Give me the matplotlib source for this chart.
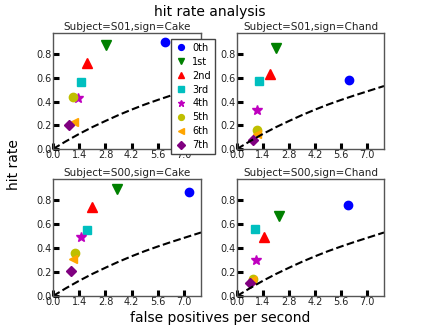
import matplotlib
matplotlib.use('Agg')
import matplotlib.pyplot as plt

# Per-panel data: false positives per second (x) and hit rate (y), 8 levels.
levels = ['0th', '1st', '2nd', '3rd', '4th', '5th', '6th', '7th']
titles = ['Subject=S01,sign=Cake', 'Subject=S01,sign=Chand',
          'Subject=S00,sign=Cake', 'Subject=S00,sign=Chand']

fp_s01_cake = [5.96, 2.85, 1.80, 1.48, 1.35, 1.06, 1.12, 0.85]
hr_s01_cake = [0.90, 0.877, 0.73, 0.564, 0.427, 0.436, 0.23, 0.20]
fp_s01_chand = [6.04, 2.10, 1.80, 1.19, 1.10, 1.10, 1.10, 0.85]
hr_s01_chand = [0.584, 0.857, 0.635, 0.578, 0.33, 0.16, 0.13, 0.074]
fp_s00_cake = [7.27, 3.43, 2.09, 1.80, 1.48, 1.19, 1.05, 0.94]
hr_s00_cake = [0.868, 0.90, 0.742, 0.556, 0.497, 0.357, 0.312, 0.21]
fp_s00_chand = [5.97, 2.27, 1.44, 0.97, 1.01, 0.85, 0.79, 0.68]
hr_s00_chand = [0.761, 0.671, 0.497, 0.559, 0.30, 0.146, 0.13, 0.11]

# Chance curve.
chance_x = [0.0, 0.7, 1.4, 2.1, 2.8, 3.5, 4.2, 4.9, 5.6, 6.3, 7.0, 7.9]
chance_y = [0.0, 0.066, 0.128, 0.185, 0.237, 0.287, 0.333, 0.376,
            0.415, 0.452, 0.487, 0.532]

markers = ['o', 'v', '^', 's', '*', 'o', '<', 'D']
colors = ['b', 'g', 'r', 'c', 'm', 'y', 'orange', 'purple']
sizes = [6, 6.5, 6.5, 6, 7, 6, 6, 5.5]

fps = [fp_s01_cake, fp_s01_chand, fp_s00_cake, fp_s00_chand]
hrs = [hr_s01_cake, hr_s01_chand, hr_s00_cake, hr_s00_chand]

fig = plt.figure(figsize=(4.27, 3.29), dpi=100)
W, H = 427.0, 329.0
boxes = [(53, 33, 201, 149), (237, 33, 384, 149),
         (53, 179, 201, 296), (237, 179, 384, 296)]

axes = []
for i, (l, t, r, b) in enumerate(boxes):
    ax = fig.add_axes([l / W, 1 - b / H, (r - l) / W, (b - t) / H])
    axes.append(ax)
    for k in range(len(levels)):
        ax.plot(fps[i][k], hrs[i][k], linestyle='none', marker=markers[k],
                color=colors[k], markersize=sizes[k], label=levels[k])
    ax.plot(chance_x, chance_y, 'k--', linewidth=1.5)
    ax.set_xlim(0, 7.9)
    ax.set_ylim(0, 0.98)
    ax.set_xticks([0.0, 1.4, 2.8, 4.2, 5.6, 7.0])
    ax.set_xticklabels(['0.0', '1.4', '2.8', '4.2', '5.6', '7.0'])
    ax.set_yticks([0.0, 0.2, 0.4, 0.6, 0.8])
    ax.set_yticklabels(['0.0', '0.2', '0.4', '0.6', '0.8'])
    ax.tick_params(direction='in', length=4, width=2.2, labelsize=7,
                   colors='black', labelcolor='#222222', pad=1)
    for sp in ax.spines.values():
        sp.set_color('#555555')
        sp.set_linewidth(1)
    ax.set_title(titles[i], fontsize=7.5, pad=2, color='#222222')

leg = axes[0].legend(loc='upper left', bbox_to_anchor=(171 / W, 1 - 39 / H),
                     bbox_transform=fig.transFigure, fontsize=7,
                     markerscale=0.7, fancybox=False, framealpha=1,
                     handletextpad=0.6, borderpad=0.4, labelspacing=0.4,
                     handlelength=1.2, borderaxespad=0)
leg.get_frame().set_edgecolor('#444444')

fig.text(210 / W, 1 - 12 / H, 'hit rate analysis', ha='center', va='center',
         fontsize=10)
fig.text(14 / W, 1 - 165 / H, 'hit rate', ha='center', va='center',
         rotation=90, fontsize=10)
fig.text(220 / W, 1 - 318 / H, 'false positives per second', ha='center',
         va='center', fontsize=10)

fig.savefig('out.png', dpi=100)
